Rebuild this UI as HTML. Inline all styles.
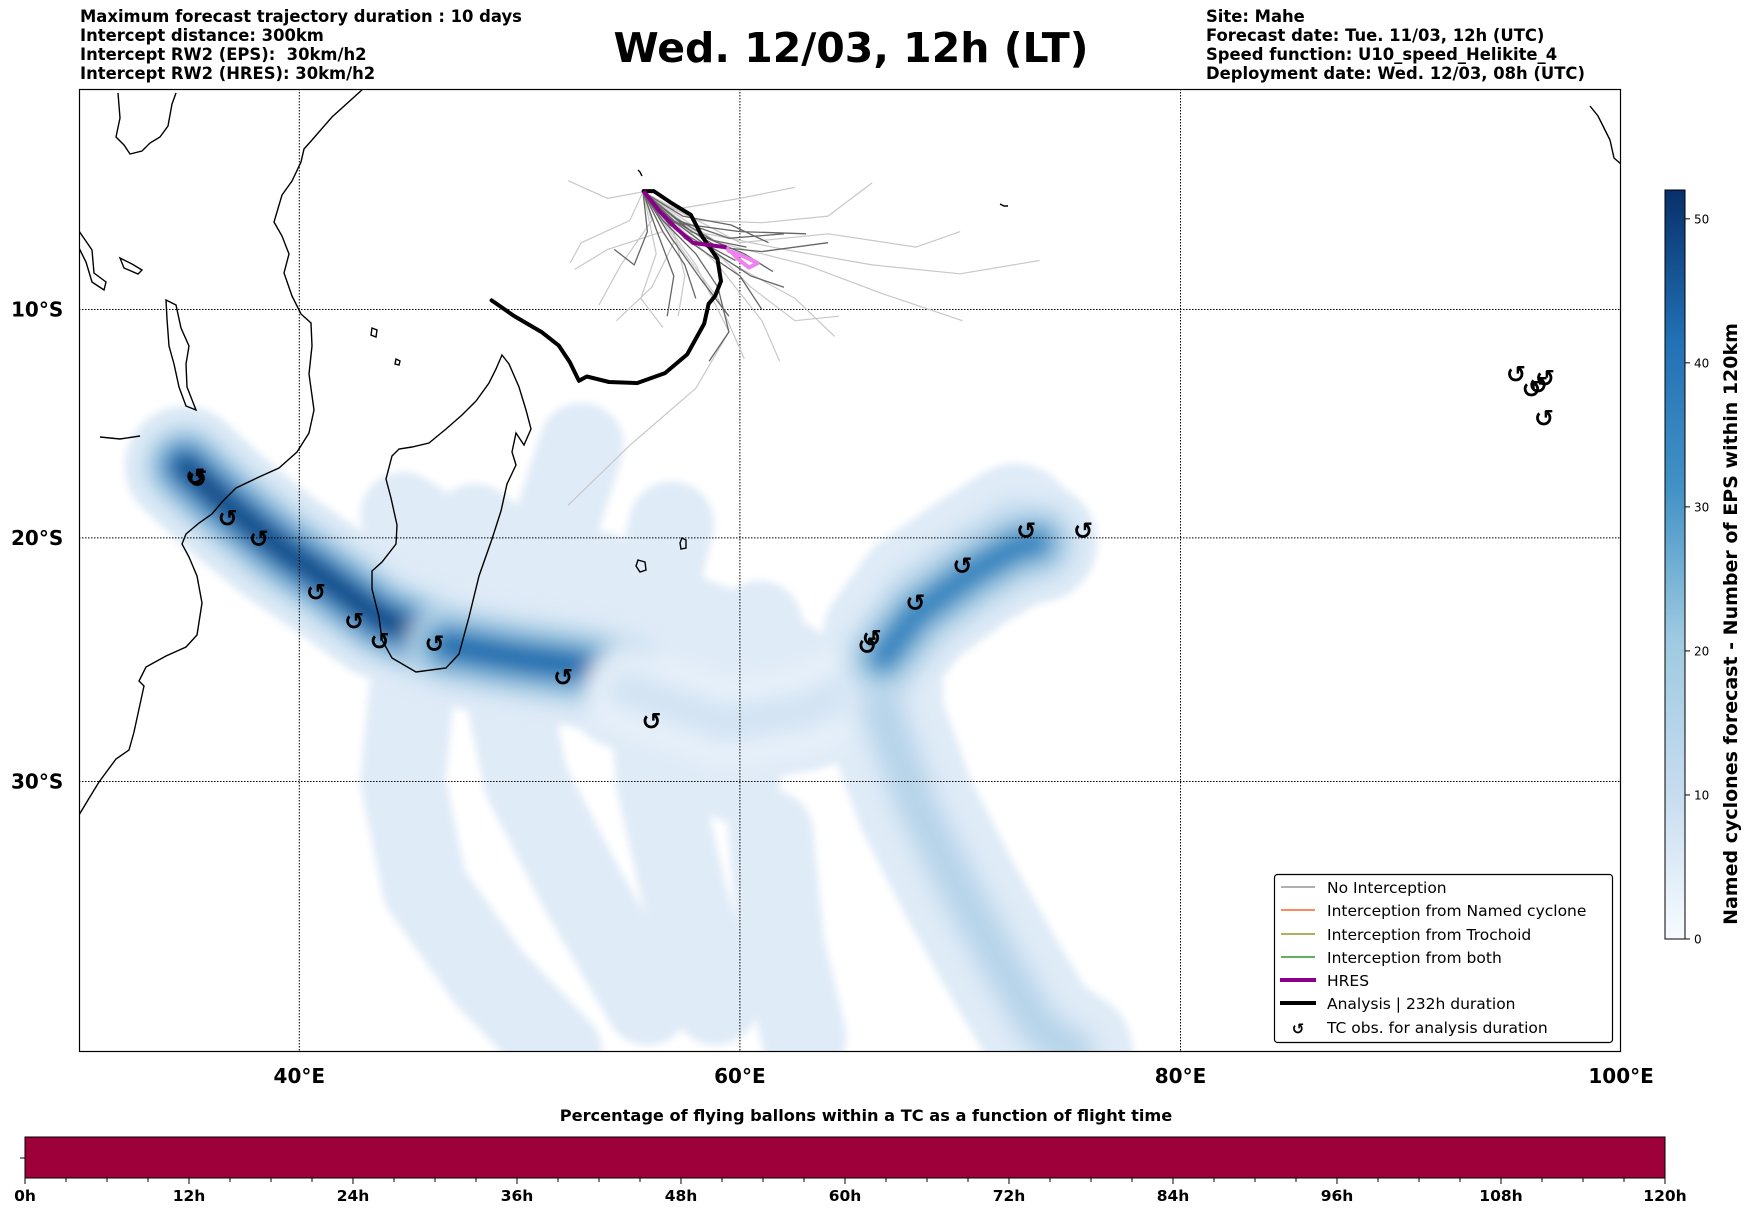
<!DOCTYPE html>
<html><head><meta charset="utf-8">
<style>
html,body{margin:0;padding:0;background:#fff;}
body{width:1752px;height:1213px;position:relative;overflow:hidden;font-family:"DejaVu Sans","Liberation Sans",sans-serif;}
.hdr{position:absolute;font-weight:bold;font-size:16.4px;line-height:19px;color:#000;white-space:pre;}
</style></head>
<body>
<div class="hdr" style="left:80px;top:7px;">Maximum forecast trajectory duration : 10 days
Intercept distance: 300km
Intercept RW2 (EPS):  30km/h2
Intercept RW2 (HRES): 30km/h2</div>
<div class="hdr" style="left:1206px;top:7px;">Site: Mahe
Forecast date: Tue. 11/03, 12h (UTC)
Speed function: U10_speed_Helikite_4
Deployment date: Wed. 12/03, 08h (UTC)</div>
<div style="position:absolute;left:0;width:1702px;top:24px;text-align:center;font-weight:bold;font-size:41px;">Wed. 12/03, 12h (LT)</div>

<svg id="chart" width="1752" height="1213" style="position:absolute;left:0;top:0;font-family:'DejaVu Sans','Liberation Sans',sans-serif">
<defs>
<filter id="blur" filterUnits="userSpaceOnUse" x="0" y="0" width="1752" height="1213"><feGaussianBlur stdDeviation="10"/></filter>
<filter id="blur2" filterUnits="userSpaceOnUse" x="0" y="0" width="1752" height="1213"><feGaussianBlur stdDeviation="4"/></filter>
<linearGradient id="blues" x1="0" y1="1" x2="0" y2="0">
<stop offset="0" stop-color="#f7fbff"/><stop offset="0.2" stop-color="#c6dbef"/><stop offset="0.4" stop-color="#9ecae1"/>
<stop offset="0.6" stop-color="#4292c6"/><stop offset="0.8" stop-color="#2171b5"/><stop offset="1" stop-color="#08306b"/>
</linearGradient>
<clipPath id="mapclip"><rect x="79" y="89" width="1542" height="963"/></clipPath>
</defs>
<g id="density" clip-path="url(#mapclip)"></g>
<g id="land" clip-path="url(#mapclip)" fill="none" stroke="#000" stroke-width="1.4">
<polyline points="363,89 332,117 312,140 304,149 301,162 292,181 282,195 274,222 282,236 289,254 284,273 292,296 301,314 311,323 312,346 309,374 314,410 309,433 297,452 279,468 259,477 236,488 222,502 212,514 199,523 186,534 182,544 189,557 197,576 202,603 197,635 186,647 166,656 146,667 139,681 144,686 139,709 134,732 129,750 116,759 99,782 88,800 79,815"/>
<polygon points="502,355 509,364 519,387 526,410 531,429 524,445 516,433 512,452 516,465 507,484 501,511 492,539 479,576 469,617 459,654 446,668 416,672 392,658 382,640 379,617 372,589 372,571 382,562 396,544 397,525 391,498 386,479 392,456 399,449 412,447 429,443 446,429 462,415 476,401 489,383 496,369"/>
<polygon points="166,300 176,305 181,328 189,346 186,364 187,387 196,410 186,406 179,387 174,364 169,346 167,319"/>
<polygon points="79,231 92,250 94,273 106,282 104,290 92,282 86,262 79,248"/>
<polygon points="120,258 132,264 142,270 138,274 124,268"/>
<polyline points="118,93 120,118 116,137 124,145 130,154 142,151 150,143 160,137 168,126 172,104 176,93"/>
<polyline points="100,437 120,439 140,436"/>
<polygon points="638,560 645,562 646,570 640,572 636,566"/>
<polygon points="682,538 686,540 686,548 681,549 680,543"/>
<polygon points="372,328 377,330 376,337 371,335"/>
<polygon points="396,359 400,361 399,365 395,364"/>
<polyline points="1590,106 1598,116 1604,128 1610,140 1614,158 1621,164"/>
<polyline points="638,170 640,172 642,176"/>
<polyline points="1000,204 1004,206 1008,206"/>
</g>
<g id="grid" stroke="#000" stroke-width="1" stroke-dasharray="1.5,1.5"></g>
<g id="tracks" clip-path="url(#mapclip)" fill="none"></g>
<g id="tcobs"></g>
<rect x="79.5" y="89.5" width="1541" height="962" fill="none" stroke="#000" stroke-width="1.2"/>
<g id="axislabels" font-weight="bold" font-size="20"></g>

<g>
<rect x="1274.5" y="874.5" width="338" height="168" rx="3" fill="#fff" stroke="#000" stroke-width="1.2"/>
<g font-size="15.5">
<line x1="1281" y1="887" x2="1315" y2="887" stroke="#808080" stroke-width="1.2"/><text x="1327" y="893">No Interception</text>
<line x1="1281" y1="910" x2="1315" y2="910" stroke="#ff4500" stroke-width="1.2"/><text x="1327" y="916">Interception from Named cyclone</text>
<line x1="1281" y1="934" x2="1315" y2="934" stroke="#808000" stroke-width="1.2"/><text x="1327" y="940">Interception from Trochoid</text>
<line x1="1281" y1="957" x2="1315" y2="957" stroke="#008000" stroke-width="1.2"/><text x="1327" y="963">Interception from both</text>
<line x1="1280" y1="980" x2="1316" y2="980" stroke="#8b008b" stroke-width="4"/><text x="1327" y="986">HRES</text>
<line x1="1280" y1="1003" x2="1316" y2="1003" stroke="#000" stroke-width="4"/><text x="1327" y="1009">Analysis | 232h duration</text>
<text x="1298" y="1034" font-size="15" font-weight="bold" text-anchor="middle">↺</text><text x="1327" y="1033">TC obs. for analysis duration</text>
</g></g>

<g>
<rect x="1665" y="190" width="20" height="749" fill="url(#blues)" stroke="#000" stroke-width="1"/>
<g id="cbticks" font-size="12"></g>
<text transform="translate(1737,624) rotate(-90)" text-anchor="middle" font-weight="bold" font-size="19">Named cyclones forecast - Number of EPS within 120km</text>
</g>

<g>
<text x="866" y="1121" text-anchor="middle" font-weight="bold" font-size="16.2">Percentage of flying ballons within a TC as a function of flight time</text>
<rect x="25" y="1137" width="1640" height="41" fill="#9e003a" stroke="#000" stroke-width="1"/>
<line x1="25" y1="1158" x2="20" y2="1158" stroke="#000"/>
<g id="hticks" font-size="15.5" font-weight="bold"></g>
</g>
</svg>

<script>
// ---------- data ----------
const lonTicks = [40, 60, 80, 100];
const latTicks = [10, 20, 30];
const cbTickValues = [0, 10, 20, 30, 40, 50];
const cbMax = 52;
const hourTicks = [0, 12, 24, 36, 48, 60, 72, 84, 96, 108, 120];

const tcLon = [35.28,35.38,36.75,38.17,40.76,42.49,43.65,46.14,51.98,55.99,65.79,65.99,67.97,70.10,73.0,75.58,95.23,95.94,96.24,96.55,96.5];
const tcLat = [17.37,17.46,19.17,20.05,22.3,23.53,24.36,24.45,25.83,27.62,24.54,24.22,22.75,21.19,19.7,19.7,12.88,13.56,13.37,13.07,14.83];

const anaLon = [48.73,49.75,51.02,51.78,52.28,52.69,53.05,54.06,55.33,56.6,57.61,58.38,58.58,58.88,59.14,58.98,58.27,57.77,56.85,56.09,55.63];
const anaLat = [9.59,10.29,11.02,11.61,12.34,13.17,12.98,13.22,13.27,12.83,12.0,10.63,9.75,9.39,8.73,7.72,6.7,5.74,5.18,4.67,4.67];

const hresLon = [55.63,56.35,57.11,57.87,59.39];
const hresLat = [4.67,5.58,6.35,7.01,7.21];
const hresTailLon = [59.39,59.49,60.15,60.81,60.41,59.9,59.6];
const hresTailLat = [7.21,7.36,7.61,7.92,8.12,7.72,7.4];

const epsLight = [
 [[55.6,4.7],[58,6.5],[62,7.3],[66,8.0],[70,8.4],[73.6,7.8]],
 [[55.6,4.7],[59,7],[63,8],[66.5,9.3],[70.1,10.5]],
 [[55.6,4.7],[58,6],[61,6.1],[64,5.8],[66,4.3]],
 [[55.6,4.7],[57,7],[56,9],[54.4,10.5]],
 [[55.6,4.7],[55,6],[52.8,7],[52.3,7.9]],
 [[55.6,4.7],[54,5],[52.2,4.2]],
 [[55.6,4.7],[58,8],[59.5,11],[58,13.5],[55,16],[52.2,18.6]],
 [[55.6,4.7],[59,8],[61,10.5],[61.8,12.3]],
 [[55.6,4.7],[58.5,7],[60.5,9],[62.5,10.5],[64.5,10.3]],
 [[55.6,4.7],[57,6.5],[57.5,8.5],[57.2,10.3]],
 [[55.6,4.7],[56,6],[54.6,8],[53.6,9.8]],
 [[55.6,4.7],[57,5.5],[60,5],[62.5,4.5]],
 [[55.6,4.7],[56.5,6.5],[54,7.3],[52.5,8.2]],
 [[55.6,4.7],[59,7.6],[62.5,9.5],[64.3,11.2]],
 [[55.6,4.7],[60,7],[64,6.6],[68,7.2],[70,6.5]],
 [[55.6,4.7],[57.5,7.5],[59,9.5],[60.2,12.2]],
 [[55.6,4.7],[56.2,7.5],[55.5,9.5],[56.5,10.8]]
];
const epsDark = [
 [[55.6,4.7],[57,6],[59,7.2],[61,7.4],[64,7.0]],
 [[55.6,4.7],[56.8,6.2],[58.5,7.2],[60.5,8.5],[62,9]],
 [[55.6,4.7],[56.5,6],[58,7.5],[59,9],[59.5,11],[58.6,12.3]],
 [[55.6,4.7],[57.2,6],[59.5,6.8],[62,6.6]],
 [[55.6,4.7],[56.5,6.5],[57.5,8],[58,9.5]],
 [[55.6,4.7],[56.2,6.4],[57,8.5],[56.7,10.3]],
 [[55.6,4.7],[57.5,6.8],[60,8.5],[61,10]],
 [[55.6,4.7],[57,6.1],[60,6.5],[63,6.6]],
 [[55.6,4.7],[55.8,6.5],[55.2,8],[54.3,7.3]],
 [[55.6,4.7],[57.8,6.5],[60.2,7.5],[61.5,8.3]],
 [[55.6,4.7],[56.9,6.8],[58.2,8.6],[59.5,10.3]],
 [[55.6,4.7],[57.4,5.8],[59.6,6.2],[61.3,7.0]],
 [[55.6,4.7],[57.1,5.9],[58.8,6.9],[60.3,7.2]],
 [[55.6,4.7],[56.7,5.8],[58.3,7.0],[59.8,7.8]]
];

const densLon = [
 [34.8,36.5,39.1,41.6,43.7,46.7,49.7],
 [46.7,49.7,52.8,54.8],
 [45.2,44.7,45.7,48.7,51.8],
 [50.3,49.2,50.3,52.8,55.8],
 [52.8,51.5,51.8],
 [56.9,55.8,56.3,57.4,58.9],
 [61.4,61.9,62.9],
 [54.8,59.4,62.9,65.0],
 [44.7,47.7],
 [60.9,61.9],
 [58.9,59.9],
 [72.5,70.5,68,66.5,66.5,68,70,72,73.6,75.1],
 [73.5,72.5,70.5,68,66.5],
 [53.5,55.5,58,61,63.5],
 [48,50,52,54]
];
const densLat = [
 [16.9,18.4,20.4,22.0,23.4,24.5,25.0],
 [24.5,25.0,25.4,25.9],
 [25.4,30,34.1,37.5,40],
 [20.8,25.4,30,34.1,38.3],
 [16,19.9,23.6],
 [19.4,23.6,30,34.1,38.3],
 [32,36.2,39.5],
 [26.3,27.7,27.2,26.3],
 [19,20.8],
 [23.6,27.2],
 [25.4,30],
 [19.4,20.6,22.2,24.1,27.3,30.9,34.2,37.1,39.2,40],
 [20.2,20.4,21.5,23.2,25.0],
 [21.5,22.5,23.5,24.5,26],
 [19.5,21,22.5,23]
];
const densLevel = [50, 42, 4, 5, 3, 5, 4, 8, 5, 6, 6, 15, 36, 5, 4];

// ---------- projection ----------
const X0 = 79, PX = 22.03, R = PX * 180 / Math.PI, Y0 = 88.1;
function xs(lon){ return X0 + (lon - 30) * PX; }
function ys(lat){ return Y0 + R * Math.log(Math.tan(Math.PI/4 + lat*Math.PI/360)); }
const NS = 'http://www.w3.org/2000/svg';
function mk(tag, attrs, parent){ const e = document.createElementNS(NS, tag); for (const k in attrs) e.setAttribute(k, attrs[k]); parent.appendChild(e); return e; }
function pts(lons, lats){ return lons.map((l,i)=>xs(l).toFixed(1)+','+ys(lats[i]).toFixed(1)).join(' '); }

function blueColor(v){
  const stops=[[0,[247,251,255]],[10,[198,219,239]],[20,[158,202,225]],[30,[66,146,198]],[40,[33,113,181]],[52,[8,48,107]]];
  v=Math.max(0,Math.min(52,v));
  for(let i=1;i<stops.length;i++){ if(v<=stops[i][0]){ const a=stops[i-1],b=stops[i],t=(v-a[0])/(b[0]-a[0]); const c=a[1].map((q,j)=>Math.round(q+(b[1][j]-q)*t)); return 'rgb('+c.join(',')+')'; } }
  return 'rgb(8,48,107)';
}

const dg = document.getElementById('density');
const baseG = mk('g',{filter:'url(#blur2)'},dg);
densLon.forEach((lons,i)=>{
  const w = densLevel[i] >= 8 ? 120 : 85;
  const p = mk('polyline',{points:pts(lons,densLat[i]),fill:'none',stroke:'#dfebf7','stroke-width':w,'stroke-linecap':'round','stroke-linejoin':'round'},baseG);
  
  
});
const midG = mk('g',{filter:'url(#blur)'},dg);
densLon.forEach((lons,i)=>{
  const lv = densLevel[i];
  if (lv < 8) return;
  const layers = [[80, lv*0.3],[56, lv*0.55],[36, lv*0.8],[18, lv]];
  layers.forEach(([w,v])=>{
    const p = mk('polyline',{points:pts(lons,densLat[i]),fill:'none',stroke:blueColor(v),'stroke-width':w,'stroke-linecap':'round','stroke-linejoin':'round'},midG);
    
    
  });
});

const gg = document.getElementById('grid');
lonTicks.forEach(l=>{ if(l<100){ mk('line',{x1:xs(l),x2:xs(l),y1:89,y2:1052},gg);} });
latTicks.forEach(l=>{ mk('line',{x1:79,x2:1621,y1:ys(l),y2:ys(l)},gg); });

const tg = document.getElementById('tracks');
epsLight.forEach(m=>{
  const p = mk('polyline',{points:m.map(q=>xs(q[0]).toFixed(1)+','+ys(q[1]).toFixed(1)).join(' '),stroke:'#c8c8c8','stroke-width':1.2,'stroke-linejoin':'round'},tg);
  
  
});
epsDark.forEach(m=>{
  const p = mk('polyline',{points:m.map(q=>xs(q[0]).toFixed(1)+','+ys(q[1]).toFixed(1)).join(' '),stroke:'#666','stroke-width':1.3,'stroke-linejoin':'round'},tg);
  
  
});
let e;
e = mk('polyline',{points:pts(hresTailLon,hresTailLat),stroke:'#ee82ee','stroke-width':4,'stroke-linejoin':'round'},tg);


e = mk('polyline',{points:pts(anaLon,anaLat),stroke:'#000','stroke-width':4,'stroke-linejoin':'round','stroke-linecap':'round'},tg);


e = mk('polyline',{points:pts(hresLon,hresLat),stroke:'#8b008b','stroke-width':4,'stroke-linejoin':'round'},tg);



const og = document.getElementById('tcobs');
tcLon.forEach((l,i)=>{
  const t = mk('text',{x:xs(l),y:ys(tcLat[i])+8,'text-anchor':'middle','font-size':24,'font-weight':'bold',fill:'#000'},og);
  t.textContent = '↺';
  
  
});

const ag = document.getElementById('axislabels');
lonTicks.forEach(l=>{
  const t = mk('text',{x:xs(l),y:1083,'text-anchor':'middle'},ag);
  t.textContent = l+'°E';
  
  
});
latTicks.forEach(l=>{
  const t = mk('text',{x:11,y:ys(l)+7},ag);
  t.textContent = l+'°S';
  
  
});

const cg = document.getElementById('cbticks');
cbTickValues.forEach(v=>{
  const y = 939 - v/cbMax*749;
  mk('line',{x1:1685,x2:1690,y1:y,y2:y,stroke:'#000'},cg);
  const t = mk('text',{x:1694,y:y+4.5},cg);
  t.textContent = v;
  
  
});

const hg = document.getElementById('hticks');
function hx(h){ return 25 + h/120*1640; }
for (let h=0; h<=120; h+=3){
  const major = hourTicks.indexOf(h) >= 0;
  mk('line',{x1:hx(h),x2:hx(h),y1:1178,y2:major?1184:1182,stroke:'#000'},hg);
}
hourTicks.forEach(h=>{
  const t = mk('text',{x:hx(h),y:1201,'text-anchor':'middle'},hg);
  t.textContent = h+'h';
  
  
});
</script>
</body></html>
